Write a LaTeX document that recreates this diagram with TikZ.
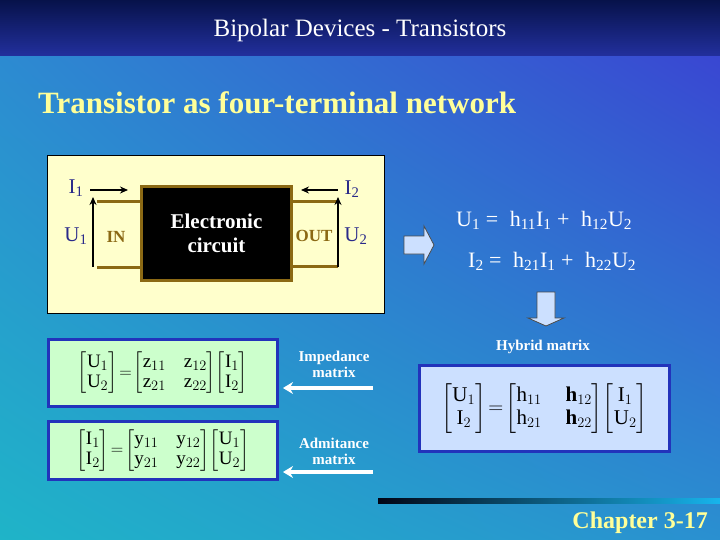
\documentclass[tikz,border=0pt]{standalone}
\usepackage{fontspec}
\usepackage{amsmath}
\setmainfont{Liberation Serif}
\usetikzlibrary{arrows.meta,shadings}
\definecolor{ul}{HTML}{2E86D2}
\definecolor{ur}{HTML}{3B3ED2}
\definecolor{ll}{HTML}{1FB4C8}
\definecolor{lr}{HTML}{2A90D0}
\definecolor{blue1}{HTML}{3A45D0}
\definecolor{navy}{HTML}{0A1A6A}
\definecolor{lab}{HTML}{2A2A8A}
\definecolor{brn}{HTML}{8B6914}
\definecolor{ylw}{HTML}{FFFF99}
\definecolor{pale}{HTML}{FFFFCC}
\definecolor{grn}{HTML}{CCFFCC}
\definecolor{lblue}{HTML}{CCE0FF}
\definecolor{bbord}{HTML}{2233BB}
\tikzset{
  lbl/.style={text=lab,font=\fontsize{21}{22}\selectfont,inner sep=0},
  wire/.style={brn,line width=3pt},
  arr/.style={black,line width=1.8pt,-{Stealth[length=8pt,width=7pt]}},
  mbox/.style={draw=bbord,line width=3pt,anchor=north west},
  wlab/.style={text=white,font=\bfseries\fontsize{15}{16}\selectfont,align=center,inner sep=0},
  warr/.style={white,line width=3.5pt,-{Stealth[length=10pt,width=12pt]}},
  eq/.style={text=white,font=\fontsize{22}{24}\selectfont,inner sep=0},
  big/.style={draw=black!70,fill=lblue,line width=0.8pt}
}
\begin{document}
\begin{tikzpicture}[x=1pt,y=-1pt]
\useasboundingbox (0,0) rectangle (720,540);
\shade[upper left=ul,upper right=ur,lower left=ll,lower right=lr] (0,0) rectangle (720,540);
\shade[top color=navy!70!black,bottom color=navy!50!blue1] (0,0) rectangle (720,56);
\node[text=white,font=\fontsize{25}{27}\selectfont] (hdr) at (360,30) {Bipolar Devices - Transistors};
\node[text=ylw,font=\bfseries\fontsize{31}{33}\selectfont,anchor=west,inner sep=0] (ttl) at (38,103) {Transistor as four-terminal network};
% network box
\node[draw=black,fill=pale,minimum width=337,minimum height=158,anchor=north west] (yb) at (47,155) {};
\node[draw=brn,fill=black,line width=3pt,minimum width=150,minimum height=94,anchor=north west,text=white,font=\bfseries\fontsize{21}{24}\selectfont,align=center] (ec) at (140,185) {Electronic\\circuit};
\coordinate (a1) at (97,202); \coordinate (a2) at (97,267);
\coordinate (b1) at (338,202); \coordinate (b2) at (338,266);
\draw[wire] (a1) -- (a1 -| ec.west); \draw[wire] (a2) -- (a2 -| ec.west);
\draw[wire] (b1) -- (b1 -| ec.east); \draw[wire] (b2) -- (b2 -| ec.east);
\coordinate (u1s) at (93,267); \coordinate (u1e) at (93,197);
\coordinate (u2s) at (338,267); \coordinate (u2e) at (338,197);
\draw[arr] (u1s) -- (u1e); \draw[arr] (u2s) -- (u2e);
\coordinate (i1s) at (90,190); \coordinate (i1e) at (128,190);
\coordinate (i2s) at (338,190); \coordinate (i2e) at (301,190);
\draw[arr] (i1s) -- (i1e); \draw[arr] (i2s) -- (i2e);
\node[lbl] (I1) at (76,188) {I\textsubscript{1}};
\node[lbl] (U1) at (76,236) {U\textsubscript{1}};
\node[lbl] (I2) at (352,189) {I\textsubscript{2}};
\node[lbl] (U2) at (356,236) {U\textsubscript{2}};
\node[text=brn,font=\bfseries\fontsize{17}{18}\selectfont,inner sep=0] (in) at (116,237) {IN};
\node[text=brn,font=\bfseries\fontsize{17}{18}\selectfont,inner sep=0] (out) at (314,236) {OUT};
% Z and Y boxes
\node[mbox,fill=grn,minimum width=229,minimum height=67] (zb) at (47,338) {};
\node[font=\fontsize{19}{20}\selectfont] (zm) at (zb.center) {\setlength\arraycolsep{9pt}$\begin{bmatrix}\mathrm{U}_1\\ \mathrm{U}_2\end{bmatrix}\!=\!\begin{bmatrix}\mathrm{z}_{11}&\mathrm{z}_{12}\\ \mathrm{z}_{21}&\mathrm{z}_{22}\end{bmatrix}\!\begin{bmatrix}\mathrm{I}_1\\ \mathrm{I}_2\end{bmatrix}$};
\node[mbox,fill=grn,minimum width=229,minimum height=58] (yb2) at (47,420) {};
\node[font=\fontsize{19}{20}\selectfont] (ym) at (yb2.center) {\setlength\arraycolsep{9pt}$\begin{bmatrix}\mathrm{I}_1\\ \mathrm{I}_2\end{bmatrix}\!=\!\begin{bmatrix}\mathrm{y}_{11}&\mathrm{y}_{12}\\ \mathrm{y}_{21}&\mathrm{y}_{22}\end{bmatrix}\!\begin{bmatrix}\mathrm{U}_1\\ \mathrm{U}_2\end{bmatrix}$};
\node[wlab] (imp) at (334,364) {Impedance\\matrix};
\node[wlab] (adm) at (334,451) {Admitance\\matrix};
\coordinate (ia) at (373,388); \coordinate (ib) at (283,388);
\coordinate (aa) at (373,472); \coordinate (ab) at (283,472);
\draw[warr] (ia) -- (ib); \draw[warr] (aa) -- (ab);
% right side
\draw[big] (404,236) -- (424,236) -- (424,226) -- (434,245) -- (424,264) -- (424,254) -- (404,254) -- cycle;
\node[eq,anchor=west] (e1) at (456,220) {U\textsubscript{1} =\; h\textsubscript{11}I\textsubscript{1} +\; h\textsubscript{12}U\textsubscript{2}};
\node[eq,anchor=west] (e2) at (468,261) {I\textsubscript{2} =\; h\textsubscript{21}I\textsubscript{1} +\; h\textsubscript{22}U\textsubscript{2}};
\draw[big] (537,292) -- (555,292) -- (555,318) -- (564,318) -- (546,326) -- (528,318) -- (537,318) -- cycle;
\node[wlab] (hyb) at (543,347) {Hybrid matrix};
\node[mbox,fill=lblue,minimum width=250,minimum height=86] (hb) at (418,364) {};
\node[font=\fontsize{21}{23}\selectfont] (hm) at (hb.center) {\setlength\arraycolsep{12pt}$\begin{bmatrix}\mathrm{U}_1\\ \mathrm{I}_2\end{bmatrix}\!=\!\begin{bmatrix}\mathrm{h}_{11}&\mathbf{h}_{12}\\ \mathrm{h}_{21}&\mathbf{h}_{22}\end{bmatrix}\!\begin{bmatrix}\mathrm{I}_1\\ \mathrm{U}_2\end{bmatrix}$};
\shade[left color=black!80!navy,right color=blue1!40!cyan] (378,498) rectangle (720,503);
\node[text=ylw,font=\bfseries\fontsize{24}{26}\selectfont,anchor=east,inner sep=0] (ch) at (708,523) {Chapter 3-17};
\end{tikzpicture}
\end{document}
